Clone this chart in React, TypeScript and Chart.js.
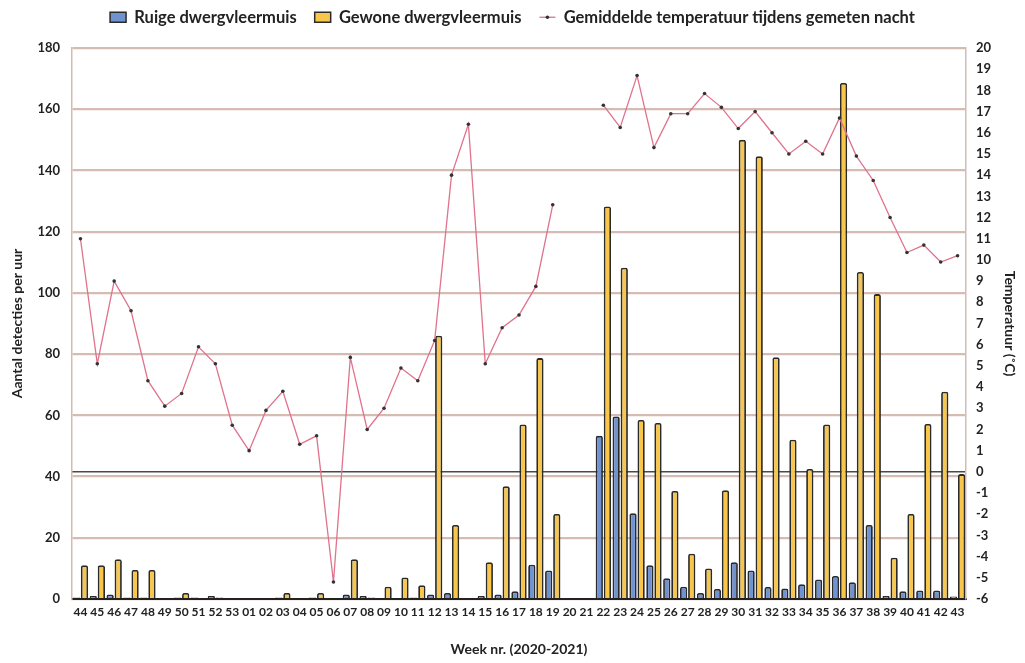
import React, { useEffect, useRef } from 'react';
import { Chart, registerables } from 'chart.js';

Chart.register(...registerables);

const weeks = ['44', '45', '46', '47', '48', '49', '50', '51', '52', '53', '01', '02', '03', '04', '05', '06', '07', '08', '09', '10', '11', '12', '13', '14', '15', '16', '17', '18', '19', '20', '21', '22', '23', '24', '25', '26', '27', '28', '29', '30', '31', '32', '33', '34', '35', '36', '37', '38', '39', '40', '41', '42', '43'];

const ruige = [0.5, 1, 1.5, 0.5, 0.5, 0.3, 0.5, 0.5, 1, 0.3, 0.3, 0.3, 0.5, 0.3, 0.5, 0.3, 1.5, 1, 0.3, 0.3, 0.5, 1.5, 2, 0, 1, 1.5, 2.5, 11.2, 9.3, 0, 0, 53.3, 59.6, 28, 11, 6.8, 4, 2, 3.3, 12, 9.3, 3.9, 3.4, 4.8, 6.4, 7.5, 5.5, 24.2, 1, 2.5, 2.8, 2.8, 0.8];

const gewone = [11, 11, 13, 9.5, 9.5, 0.3, 2, 0.3, 0.5, 0.3, 0.3, 0.3, 2, 0.3, 2, 0.3, 13, 0.5, 4, 7, 4.5, 86, 24.2, 0, 12, 36.8, 57, 78.7, 27.8, 0, 0, 128.2, 108.2, 58.5, 57.5, 35.3, 14.8, 10, 35.5, 150, 144.6, 79, 52, 42.5, 57, 168.6, 106.8, 99.6, 13.5, 27.8, 57.2, 67.7, 40.8];

const temperatuur = [11.0, 5.1, 9.0, 7.6, 4.3, 3.1, 3.7, 5.9, 5.1, 2.2, 1.0, 2.9, 3.8, 1.3, 1.7, -5.2, 5.4, 2.0, 3.0, 4.9, 4.3, 6.2, 14.0, 16.4, 5.1, 6.8, 7.4, 8.75, 12.6, null, null, 17.3, 16.25, 18.7, 15.3, 16.9, 16.9, 17.85, 17.2, 16.2, 17.0, 16.0, 15.0, 15.6, 15.0, 16.7, 14.9, 13.75, 12.0, 10.35, 10.7, 9.9, 10.2];

const FONT = 'Lato, "Open Sans", sans-serif';
const LAYOUT_TOP = -9;
const CHART_TOP = 48;

export default function App() {
  const ref = useRef<HTMLCanvasElement>(null);

  useEffect(() => {
    document.body.style.margin = '0';
    const canvas = ref.current;
    if (!canvas) return;

    const legendTweaks = {
      id: 'legendTweaks',
      beforeLayout(chart: any) {
        const lg = chart.legend;
        if (lg && !lg.__patched) {
          const orig = lg.fit.bind(lg);
          lg.fit = function () {
            orig();
            this.height = CHART_TOP - LAYOUT_TOP;
          };
          lg.__patched = true;
        }
      },
      afterDraw(chart: any) {
        const hb = chart.legend && chart.legend.legendHitBoxes && chart.legend.legendHitBoxes[2];
        if (!hb) return;
        const c = chart.ctx;
        c.save();
        c.fillStyle = '#333';
        c.beginPath();
        c.arc(hb.left + 8, hb.top + hb.height / 2, 1.8, 0, Math.PI * 2);
        c.fill();
        c.restore();
      },
    };

    const chart = new Chart(canvas, {
      type: 'bar',
      data: {
        labels: weeks,
        datasets: [
          {
            type: 'bar',
            label: 'Ruige dwergvleermuis',
            data: ruige,
            backgroundColor: '#6F92D0',
            borderColor: '#2b2b2b',
            borderWidth: 1.8,
            borderRadius: 2,
            yAxisID: 'y',
            order: 1,
            categoryPercentage: 0.96,
            barPercentage: 0.9,
          } as any,
          {
            type: 'bar',
            label: 'Gewone dwergvleermuis',
            data: gewone,
            backgroundColor: '#F7C64A',
            borderColor: '#2b2b2b',
            borderWidth: 1.8,
            borderRadius: 2,
            yAxisID: 'y',
            order: 1,
            categoryPercentage: 0.96,
            barPercentage: 0.9,
          } as any,
          {
            type: 'line',
            label: 'Gemiddelde temperatuur tijdens gemeten nacht',
            data: temperatuur,
            borderColor: '#E0728C',
            backgroundColor: '#E0728C',
            borderWidth: 1.3,
            pointRadius: 1.8,
            pointBackgroundColor: '#333',
            pointBorderColor: '#333',
            pointBorderWidth: 0,
            spanGaps: false,
            tension: 0,
            yAxisID: 'y1',
            order: -1,
          } as any,
        ],
      },
      options: {
        animation: false,
        responsive: false,
        maintainAspectRatio: false,
        layout: { padding: { top: LAYOUT_TOP, left: 0, right: 0, bottom: 0 } },
        plugins: {
          tooltip: { enabled: false },
          legend: {
            position: 'top',
            labels: {
              usePointStyle: true,
              pointStyleWidth: 16,
              boxHeight: 10,
              padding: 18,
              color: '#222',
              font: { family: FONT, size: 16.5, weight: 'bold' },
              sort: (a: any, b: any) => a.datasetIndex - b.datasetIndex,
              generateLabels: (ch: any) => {
                const items = Chart.defaults.plugins.legend.labels.generateLabels(ch);
                return items.map((it: any) => {
                  if (it.datasetIndex === 2) {
                    return { ...it, pointStyle: 'line', strokeStyle: '#E0728C', lineWidth: 1.3 };
                  }
                  return { ...it, pointStyle: 'rect', strokeStyle: '#2b2b2b', lineWidth: 1.5 };
                });
              },
            },
          },
        },
        scales: {
          x: {
            offset: true,
            grid: { display: false, drawTicks: false },
            border: { display: true, color: '#222', width: 2 },
            ticks: {
              autoSkip: false,
              maxRotation: 0,
              minRotation: 0,
              padding: 6,
              color: '#222',
              font: { family: FONT, size: 12, weight: 'bold' },
            },
            title: {
              display: true,
              text: 'Week nr. (2020-2021)',
              color: '#222',
              font: { family: FONT, size: 14, weight: 'bold' },
              padding: { top: 0, bottom: 5 },
            },
            afterFit: (s: any) => {
              s.height = 64;
            },
          },
          y: {
            position: 'left',
            min: 0,
            max: 180,
            ticks: {
              stepSize: 20,
              padding: 12,
              color: '#222',
              font: { family: FONT, size: 13, weight: 'bold' },
            },
            grid: { color: '#D6BBB3', lineWidth: 2.2, drawTicks: false },
            border: { display: true, color: '#D6BBB3', width: 1.5 },
            title: {
              display: true,
              text: 'Aantal detecties per uur',
              color: '#222',
              font: { family: FONT, size: 14, weight: 'bold' },
              padding: { top: 9, bottom: 0 },
            },
            afterFit: (s: any) => {
              s.width = 72;
            },
          },
          y1: {
            position: 'right',
            min: -6,
            max: 20,
            z: 1,
            ticks: {
              stepSize: 1,
              padding: 10,
              autoSkip: false,
              color: '#222',
              font: { family: FONT, size: 13, weight: 'bold' },
            },
            grid: {
              drawOnChartArea: true,
              drawTicks: false,
              color: (ctx: any) => (ctx.tick && ctx.tick.value === 0 ? '#4a4a4a' : 'rgba(0,0,0,0)'),
              lineWidth: 1.5,
            },
            border: { display: true, color: '#D6BBB3', width: 1.5 },
            title: {
              display: true,
              text: 'Temperatuur (˚C)',
              color: '#222',
              font: { family: FONT, size: 14, weight: 'bold' },
              padding: { top: 7, bottom: 0 },
            },
            afterFit: (s: any) => {
              s.width = 59;
            },
          },
        },
      } as any,
      plugins: [legendTweaks],
    });

    return () => chart.destroy();
  }, []);

  return (
    <div style={{ width: 1025, height: 663 }}>
      <canvas ref={ref} width={1025} height={663} />
    </div>
  );
}
